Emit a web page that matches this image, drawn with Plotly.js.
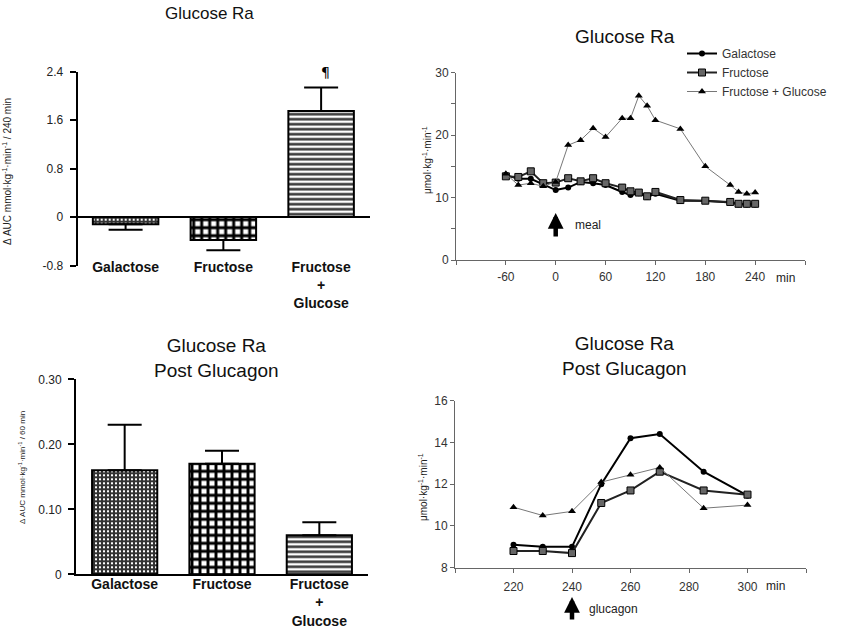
<!DOCTYPE html>
<html>
<head>
<meta charset="utf-8">
<script src="https://cdn.plot.ly/plotly-3.0.1.min.js"></script>
<style>html,body{margin:0;padding:0;background:#fff;}#chart{width:843px;height:639px;}</style>
</head>
<body>
<div id="chart"></div>
<script>
// ---- Data ----
const barCategories = ['Galactose', 'Fructose', 'Fructose<br>+<br>Glucose'];
const aucMeal = [-0.12, -0.38, 1.75];
const aucMealErrUp = [0, 0, 0.39];
const aucMealErrDown = [0.09, 0.17, 0];
const aucGlucagon = [0.16, 0.17, 0.06];
const aucGlucagonErr = [0.07, 0.02, 0.02];

const mealTime = [-60, -45, -30, -15, 0, 15, 30, 45, 60, 80, 90, 100, 110, 120, 150, 180, 210, 220, 230, 240];
const galactoseMeal = [13.6, 13.0, 13.0, 12.1, 11.2, 11.6, 12.5, 12.3, 12.0, 10.9, 10.4, 10.7, 10.1, 10.6, 9.5, 9.5, 9.2, 8.9, 8.9, 8.9];
const fructoseMeal = [13.4, 13.3, 14.2, 12.3, 12.4, 13.1, 12.6, 13.1, 12.3, 11.6, 11.0, 10.8, 10.2, 10.9, 9.6, 9.5, 9.3, 9.0, 9.0, 9.0];
const fructGlucMeal = [13.8, 12.0, 12.3, 11.8, 12.5, 18.4, 19.2, 21.1, 19.7, 22.7, 22.7, 26.3, 24.7, 22.4, 21.0, 15.0, 12.0, 10.9, 10.6, 10.8];

const glucagonTime = [220, 230, 240, 250, 260, 270, 285, 300];
const galactoseGlucagon = [9.1, 9.0, 9.0, 12.0, 14.2, 14.4, 12.6, 11.45];
const fructoseGlucagon = [8.8, 8.8, 8.7, 11.1, 11.7, 12.6, 11.7, 11.5];
const fructGlucGlucagon = [10.9, 10.5, 10.7, 12.1, 12.45, 12.8, 10.85, 11.0];

const seriesNames = ['Galactose', 'Fructose', 'Fructose + Glucose'];
const mealTickVals = [-120, -60, 0, 60, 120, 180, 240, 300];
const mealTickText = ['', '-60', '0', '60', '120', '180', '240', ''];
const mealYTickVals = [0, 5, 10, 15, 20, 25, 30];
const mealYTickText = ['0', '', '10', '', '20', '', '30'];
const glucTickVals = [200, 220, 240, 260, 280, 300, 320];
const glucTickText = ['', '220', '240', '260', '280', '300', ''];
const glucYTickVals = [8, 10, 12, 14, 16];
const aucMealTicks = [-0.8, 0, 0.8, 1.6, 2.4];
const aucMealTickText = ['-0.8', '0', '0.8', '1.6', '2.4'];
const aucGlucTicks = [0, 0.1, 0.2, 0.3];
const aucGlucTickText = ['0', '0.10', '0.20', '0.30'];

// ---- Styles ----
const FONT = 'Arial, "Liberation Sans", sans-serif';
const W = 843, H = 639;
const px = v => v / W;
const py = v => 1 - v / H;

const barPattern = {
  shape: ['+', '+', '-'],
  size: [4, 8, 5],
  solidity: [0.75, 0.6, 0.5],
  fgcolor: ['#333', '#000', '#333'],
  bgcolor: ['#fff', '#fff', '#fff'],
  fillmode: 'replace'
};

const lineStyles = [
  {line: {color: '#000', width: 2}, marker: {symbol: 'circle', size: 6, color: '#000'}},
  {line: {color: '#222', width: 2}, marker: {symbol: 'square', size: 7, color: '#666', line: {color: '#000', width: 1}}},
  {line: {color: '#777', width: 1}, marker: {symbol: 'triangle-up', size: 7, color: '#000'}}
];

const traces = [];
traces.push({
  type: 'bar', x: barCategories, y: aucMeal, xaxis: 'x', yaxis: 'y', width: 0.67,
  marker: {color: '#fff', line: {color: '#000', width: 2}, pattern: barPattern},
  error_y: {type: 'data', symmetric: false, array: aucMealErrUp, arrayminus: aucMealErrDown, color: '#000', thickness: 2, width: 17},
  showlegend: false, hoverinfo: 'skip'
});
traces.push({
  type: 'bar', x: barCategories, y: aucGlucagon, xaxis: 'x3', yaxis: 'y3', width: 0.67,
  marker: {color: '#fff', line: {color: '#000', width: 2}, pattern: barPattern},
  error_y: {type: 'data', symmetric: false, array: aucGlucagonErr, arrayminus: [0, 0, 0], color: '#000', thickness: 2, width: 17},
  showlegend: false, hoverinfo: 'skip'
});
const mealSeries = [galactoseMeal, fructoseMeal, fructGlucMeal];
mealSeries.forEach((ys, i) => {
  traces.push(Object.assign({
    type: 'scatter', mode: 'lines+markers', x: mealTime, y: ys, xaxis: 'x2', yaxis: 'y2',
    name: seriesNames[i], showlegend: true
  }, lineStyles[i]));
});
const glucSeries = [galactoseGlucagon, fructoseGlucagon, fructGlucGlucagon];
glucSeries.forEach((ys, i) => {
  traces.push(Object.assign({
    type: 'scatter', mode: 'lines+markers', x: glucagonTime, y: ys, xaxis: 'x4', yaxis: 'y4',
    name: seriesNames[i], showlegend: false
  }, lineStyles[i]));
});

const leftTickFont = {family: FONT, size: 12, color: '#222'};
const rightTickFont = {family: FONT, size: 12, color: '#333'};
const catFont = {family: FONT, size: 14, color: '#111', weight: 'bold'};

function note(text, x, y, size, extra) {
  return Object.assign({text: text, xref: 'paper', yref: 'paper', x: px(x), y: py(y), showarrow: false,
    xanchor: 'center', yanchor: 'middle', font: {family: FONT, size: size, color: '#222'}}, extra || {});
}

const layout = {
  width: W, height: H,
  margin: {l: 0, r: 0, t: 0, b: 0},
  paper_bgcolor: '#fff', plot_bgcolor: 'rgba(0,0,0,0)',
  font: {family: FONT},
  showlegend: true,
  legend: {
    x: px(682), y: py(39), xanchor: 'left', yanchor: 'top',
    font: {family: FONT, size: 12, color: '#333'},
    bgcolor: 'rgba(0,0,0,0)', itemwidth: 30, tracegroupgap: 0
  },
  xaxis: {domain: [px(77.7), px(370)], range: [-0.49, 2.5], anchor: 'free', position: py(257),
    showline: false, ticks: '', showgrid: false, zeroline: false, tickfont: catFont},
  yaxis: {domain: [py(265.5), py(71.7)], range: [-0.8, 2.4], anchor: 'x',
    showline: true, linecolor: '#000', linewidth: 2, ticks: 'outside', ticklen: 6, tickwidth: 2, tickcolor: '#000',
    tickvals: aucMealTicks, ticktext: aucMealTickText, tickfont: leftTickFont, ticklabelstandoff: 4,
    showgrid: false, zeroline: true, zerolinecolor: '#000', zerolinewidth: 2},
  xaxis2: {domain: [px(456), px(805)], range: [-120, 300], anchor: 'y2',
    showline: true, linecolor: '#666', linewidth: 1, ticks: 'outside', ticklen: 4, tickcolor: '#666',
    tickvals: mealTickVals, ticktext: mealTickText, tickfont: rightTickFont, ticklabelstandoff: 2,
    showgrid: false, zeroline: false},
  yaxis2: {domain: [py(260), py(72.7)], range: [0, 30], anchor: 'x2',
    showline: true, linecolor: '#666', linewidth: 1, ticks: 'outside', ticklen: 4, tickcolor: '#666',
    tickvals: mealYTickVals, ticktext: mealYTickText, tickfont: rightTickFont,
    showgrid: false, zeroline: false},
  xaxis3: {domain: [px(76), px(368)], range: [-0.5, 2.5], anchor: 'y3',
    showline: true, linecolor: '#000', linewidth: 2, ticks: '', showgrid: false, zeroline: false,
    tickfont: catFont, ticklabelstandoff: -4},
  yaxis3: {domain: [py(574.3), py(379.3)], range: [0, 0.3], anchor: 'x3',
    showline: true, linecolor: '#000', linewidth: 2, ticks: 'outside', ticklen: 6, tickwidth: 2, tickcolor: '#000',
    tickvals: aucGlucTicks, ticktext: aucGlucTickText, tickfont: leftTickFont, ticklabelstandoff: 4,
    showgrid: false, zeroline: false},
  xaxis4: {domain: [px(455), px(806)], range: [200, 320], anchor: 'y4',
    showline: true, linecolor: '#666', linewidth: 1, ticks: 'outside', ticklen: 4, tickcolor: '#666',
    tickvals: glucTickVals, ticktext: glucTickText, tickfont: rightTickFont, ticklabelstandoff: 4,
    showgrid: false, zeroline: false},
  yaxis4: {domain: [py(567.7), py(400.7)], range: [8, 16], anchor: 'x4',
    showline: true, linecolor: '#666', linewidth: 1, ticks: 'outside', ticklen: 4, tickcolor: '#666',
    tickvals: glucYTickVals, tickfont: rightTickFont,
    showgrid: false, zeroline: false},
  annotations: [
    note('Glucose Ra', 209, 14, 17, {font: {family: FONT, size: 17, color: '#111'}}),
    note('Glucose Ra', 625, 37, 19, {font: {family: FONT, size: 19, color: '#111'}}),
    note('Glucose Ra<br>Post Glucagon', 216, 358, 19, {font: {family: FONT, size: 19, color: '#111'}}),
    note('Glucose Ra<br>Post Glucagon', 624, 355.5, 19, {font: {family: FONT, size: 19, color: '#111'}}),
    note('Δ AUC mmol·kg<sup>-1</sup>·min<sup>-1</sup> / 240 min', 7, 172, 10, {textangle: -90}),
    note('Δ AUC mmol·kg<sup>-1</sup>·min<sup>-1</sup> / 60 min', 22, 468, 8, {textangle: -90}),
    note('μmol·kg<sup>-1</sup>·min<sup>-1</sup>', 427, 160, 10, {textangle: -90}),
    note('μmol·kg<sup>-1</sup>·min<sup>-1</sup>', 423, 487, 10, {textangle: -90}),
    note('min', 785.5, 278, 12),
    note('min', 775, 585.7, 12),
    {text: '¶', xref: 'x', yref: 'y', x: 2.04, y: 2.4, showarrow: false, xanchor: 'center', yanchor: 'middle',
      font: {family: '"DejaVu Sans", Arial, sans-serif', size: 14, color: '#000'}},
    {text: '', xref: 'x2', yref: 'paper', x: 0, y: py(213), ax: 0, ay: 25, axref: 'pixel', ayref: 'pixel',
      showarrow: true, arrowhead: 2, arrowsize: 0.7, arrowwidth: 4.5, arrowcolor: '#000', standoff: 0},
    note('meal', 588, 225, 12),
    {text: '', xref: 'x4', yref: 'paper', x: 240, y: py(597), ax: 0, ay: 24, axref: 'pixel', ayref: 'pixel',
      showarrow: true, arrowhead: 2, arrowsize: 0.7, arrowwidth: 4.5, arrowcolor: '#000', standoff: 0},
    note('glucagon', 613, 609.3, 12)
  ]
};

Plotly.newPlot('chart', traces, layout, {displayModeBar: false, staticPlot: true});
</script>
</body>
</html>
